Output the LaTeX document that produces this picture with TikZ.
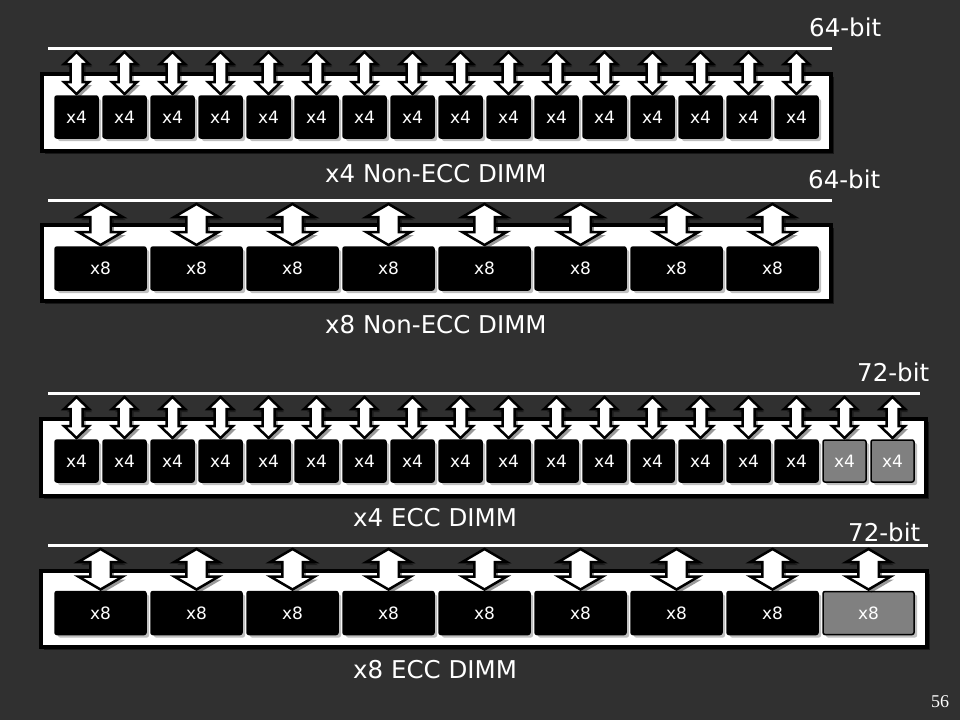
\documentclass[tikz,border=0pt]{standalone}
\usepackage{fontspec}
\setmainfont{DejaVu Sans}
\newfontfamily\pagenumfont{Liberation Serif}
\usetikzlibrary{calc,shadows}
\definecolor{bgcol}{RGB}{48,48,48}
\definecolor{eccgray}{RGB}{128,128,128}
\tikzset{
  dimmbox/.style={rectangle, draw=black, fill=white, line width=3.5pt, inner sep=0pt, outer sep=0pt,
    drop shadow={shadow xshift=3pt, shadow yshift=-3pt, fill=black, opacity=0.5}},
  chipbase/.style={rectangle, rounded corners=2pt, draw=black, fill=black, line width=1.5pt,
    inner sep=0pt, outer sep=0pt, text=white, font=\fontsize{17}{20}\selectfont,
    drop shadow={shadow xshift=3pt, shadow yshift=-3pt, fill=black, opacity=0.25}},
  chipfour/.style={chipbase, minimum width=43pt, minimum height=42pt},
  chipeight/.style={chipbase, minimum width=91pt, minimum height=43pt},
  eccchip/.style={fill=eccgray},
  busline/.style={draw=white, line width=3pt},
  fatarrow/.style={draw=black, fill=white, line width=2.5pt, line join=miter,
    drop shadow={shadow xshift=3pt, shadow yshift=-3pt, fill=black, opacity=0.4}},
  biglabel/.style={text=white, font=\fontsize{24.5}{29}\selectfont, inner sep=0pt, anchor=base west},
  pagelabel/.style={text=white, font=\pagenumfont\fontsize{18}{21}\selectfont, inner sep=0pt, anchor=base west}
}
% #1 bus coordinate, #2 chip node, #3 shaft half width, #4 head half width, #5 head length
\newcommand\busarrow[5]{%
  \draw[fatarrow] let \p1=(#1), \p2=(#2.north) in
    (\x2,\y1-4pt) -- (\x2+#4,\y1-4pt-#5) -- (\x2+#3,\y1-4pt-#5) -- (\x2+#3,\y2+2pt+#5)
    -- (\x2+#4,\y2+2pt+#5) -- (\x2,\y2+2pt) -- (\x2-#4,\y2+2pt+#5) -- (\x2-#3,\y2+2pt+#5)
    -- (\x2-#3,\y1-4pt-#5) -- (\x2-#4,\y1-4pt-#5) -- cycle;}
\begin{document}
\begin{tikzpicture}[x=1pt,y=-1pt]
\fill[bgcol] (0,0) rectangle (960,720);
\useasboundingbox (0,0) rectangle (960,720);

% ---------- x4 Non-ECC DIMM ----------
\node[dimmbox, minimum width=789pt, minimum height=77pt] (dimmA) at (436.5,112.5) {};
\foreach \i in {1,...,16} \node[chipfour] (A\i) at ({76.5+(\i-1)*48},117) {x4};
\coordinate (busA) at (48,48); \coordinate (busAe) at (832,48);
\foreach \i in {1,...,16} \busarrow{busA}{A\i}{6pt}{12.5pt}{12pt};
\draw[busline] (busA) -- (busAe);
\node[biglabel] (bitA) at (809,36) {64-bit};
\node[biglabel] (nameA) at (325,182) {x4 Non-ECC DIMM};

% ---------- x8 Non-ECC DIMM ----------
\node[dimmbox, minimum width=789pt, minimum height=76pt] (dimmB) at (436.5,263) {};
\foreach \i in {1,...,8} \node[chipeight] (B\i) at ({100.5+(\i-1)*96},268.5) {x8};
\coordinate (busB) at (48,200); \coordinate (busBe) at (832,200);
\foreach \i in {1,...,8} \busarrow{busB}{B\i}{10.25pt}{22.25pt}{13pt};
\draw[busline] (busB) -- (busBe);
\node[biglabel] (bitB) at (808,188) {64-bit};
\node[biglabel] (nameB) at (325,333) {x8 Non-ECC DIMM};

% ---------- x4 ECC DIMM ----------
\node[dimmbox, minimum width=885pt, minimum height=77pt] (dimmC) at (483.5,457.5) {};
\foreach \i in {1,...,16} \node[chipfour] (C\i) at ({76.5+(\i-1)*48},461) {x4};
\foreach \i in {17,18} \node[chipfour, eccchip] (C\i) at ({76.5+(\i-1)*48},461) {x4};
\coordinate (busC) at (48,393); \coordinate (busCe) at (920,393);
\foreach \i in {1,...,18} \busarrow{busC}{C\i}{6pt}{12.5pt}{12pt};
\draw[busline] (busC) -- (busCe);
\node[biglabel] (bitC) at (857,381) {72-bit};
\node[biglabel] (nameC) at (353,526) {x4 ECC DIMM};

% ---------- x8 ECC DIMM ----------
\node[dimmbox, minimum width=886pt, minimum height=76pt] (dimmD) at (484,609) {};
\foreach \i in {1,...,8} \node[chipeight] (D\i) at ({100.5+(\i-1)*96},613) {x8};
\node[chipeight, eccchip] (D9) at ({100.5+8*96},613) {x8};
\coordinate (busD) at (48,545); \coordinate (busDe) at (928,545);
\foreach \i in {1,...,9} \busarrow{busD}{D\i}{10.25pt}{22.25pt}{13pt};
\draw[busline] (busD) -- (busDe);
\node[biglabel] (bitD) at (848,541) {72-bit};
\node[biglabel] (nameD) at (353,678) {x8 ECC DIMM};

\node[pagelabel] (pagenum) at (931,707) {56};
\end{tikzpicture}
\end{document}
